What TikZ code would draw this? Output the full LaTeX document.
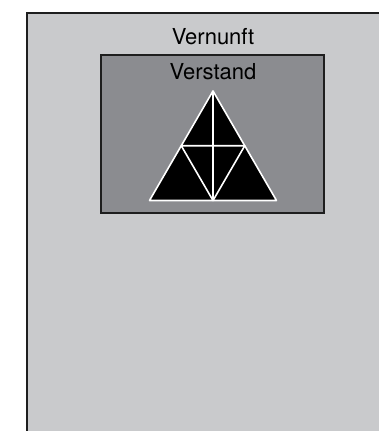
\documentclass[tikz,border=0pt]{standalone}
\usepackage{fontspec}
\setmainfont{TeX Gyre Heros}
\usetikzlibrary{positioning,calc}
\definecolor{vernunftgray}{RGB}{201, 202, 204}
\definecolor{verstandgray}{RGB}{139, 140, 144}
\definecolor{framedark}{RGB}{30, 30, 30}

\begin{document}
\begin{tikzpicture}[x=1pt, y=1pt,
    label/.style={font=\fontsize{22}{24}\selectfont, inner sep=0pt, anchor=base},
    frame/.style={line width=2pt, draw=framedark},
    tri/.style={draw=white, line width=1.6pt, line join=round}]
    \clip (0,0) rectangle (379,431);
    \fill[white] (0,0) rectangle (379,431);

    % Vernunft
    \filldraw[frame, fill=vernunftgray] (27,-20) rectangle (420,418);
    \node[label] (vernunft) at (213,386) {Vernunft};

    % Verstand
    \filldraw[frame, fill=verstandgray] (101,218) rectangle (324,376);
    \node[label] (verstand) at (213,351) {Verstand};

    % triangle
    \coordinate (apex) at (213,340);
    \coordinate (bl) at (149.5,230.5);
    \coordinate (br) at (276.5,230.5);
    \coordinate (ml) at ($(apex)!0.5!(bl)$);
    \coordinate (mr) at ($(apex)!0.5!(br)$);
    \coordinate (mb) at ($(bl)!0.5!(br)$);
    \filldraw[tri, fill=black] (apex) -- (bl) -- (br) -- cycle;
    \draw[tri] (ml) -- (mr) -- (mb) -- cycle;
    \draw[tri] (apex) -- (mb);
\end{tikzpicture}
\end{document}
